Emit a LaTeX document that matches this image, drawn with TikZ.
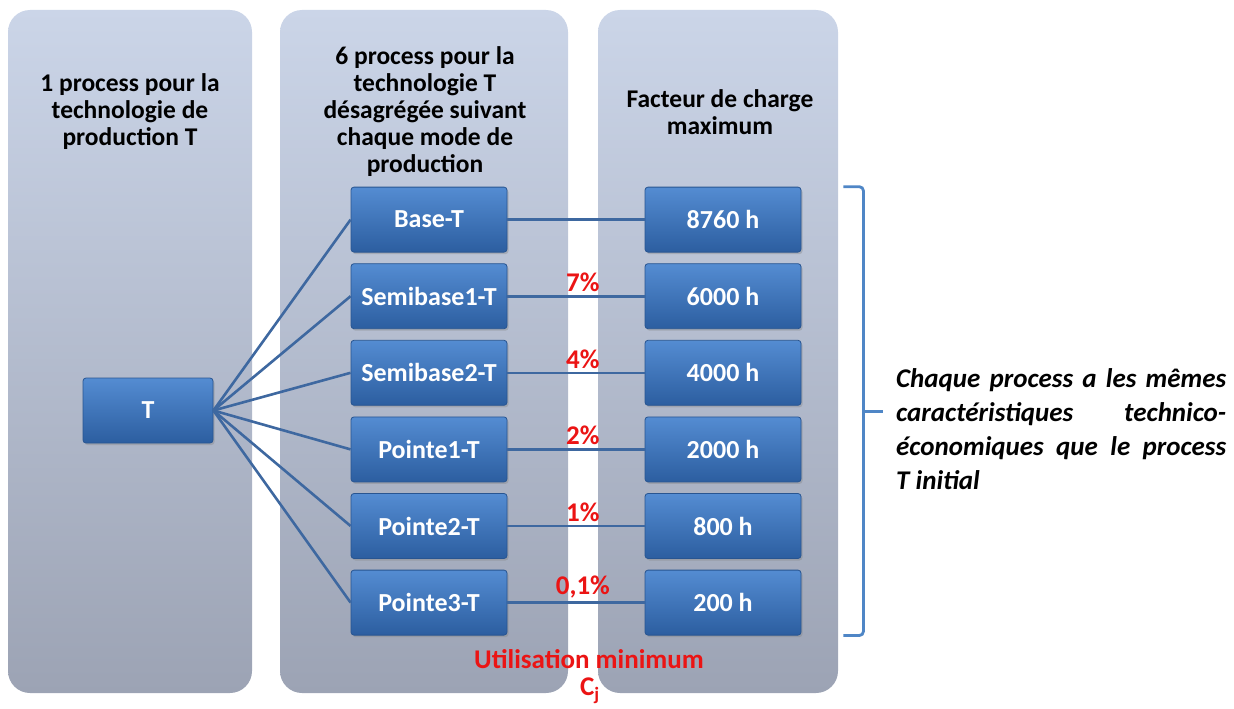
\documentclass[tikz,border=0pt]{standalone}
\usepackage{fontspec}
\setmainfont{Carlito}
\usepackage{tikz}
\usetikzlibrary{positioning,calc,shadows}
\definecolor{PanelTop}{RGB}{203,213,232}
\definecolor{PanelBot}{RGB}{156,163,180}
\definecolor{BoxTop}{RGB}{84,140,210}
\definecolor{BoxBot}{RGB}{44,94,160}
\definecolor{BoxEdge}{RGB}{40,85,145}
\definecolor{LinkBlue}{RGB}{62,104,160}
\definecolor{BraceBlue}{RGB}{79,134,198}
\definecolor{MinRed}{RGB}{235,20,20}

\tikzset{
  panel/.style={rounded corners=22pt,top color=PanelTop,bottom color=PanelBot,draw=none},
  procbox/.style={rectangle,rounded corners=3pt,top color=BoxTop,bottom color=BoxBot,
    draw=BoxEdge,line width=0.8pt,minimum width=156pt,minimum height=65pt,text=white,
    font=\fontsize{26}{30}\selectfont\bfseries,
    drop shadow={opacity=0.35,shadow xshift=1.5pt,shadow yshift=-2pt}},
  head/.style={align=center,font=\fontsize{25.5}{27}\selectfont\bfseries},
  link/.style={LinkBlue,line width=2.6pt},
  pct/.style={text=MinRed,font=\fontsize{27}{30}\selectfont\bfseries,inner sep=1pt},
  brace/.style={BraceBlue,line width=2.8pt,rounded corners=4pt},
  note/.style={text width=330pt,align=justify,inner sep=0pt,
    font=\fontsize{27}{34}\selectfont\bfseries\itshape}
}

\begin{document}
\begin{tikzpicture}[x=1pt,y=-1pt]
  \useasboundingbox (0,0) rectangle (1234,709);

  % the three columns
  \shade[panel] (8,10) rectangle (252,693);
  \shade[panel] (280,10) rectangle (568,693);
  \shade[panel] (598,10) rectangle (838,693);

  \node[head] (head1) at (130,112) {1 process pour la\\technologie de\\production T};
  \node[head] (head2) at (425,112) {6 process pour la\\technologie T\\d\'esagr\'eg\'ee suivant\\chaque mode de\\production};
  \node[head] (head3) at (720,112) {Facteur de charge\\maximum};

  \node[procbox,minimum width=130pt] (T) at (148,410.5) {T};

  \foreach \lab/\hrs [count=\i] in {Base-T/8760 h,Semibase1-T/6000 h,Semibase2-T/4000 h,
      Pointe1-T/2000 h,Pointe2-T/800 h,Pointe3-T/200 h} {
    \node[procbox] (p\i) at (429,{143+76.6*\i}) {\lab};
    \node[procbox] (f\i) at (723,{143+76.6*\i}) {\hrs};
    \draw[link] (T.east) -- (p\i.west);
  }

  \draw[link] (p1.east) -- (f1.west);
  \foreach \i/\pct in {2/7\%,3/4\%,4/2\%,5/1\%,6/{0,1\%}}
    \draw[link] (p\i.east) -- node[pct,above=2pt,pos=0.55] {\pct} (f\i.west);

  \node[pct] (umin) at (589,659) {Utilisation minimum};
  \node[pct] (cj) at (590,691) {C\textsubscript{j}};

  % bracket and comment
  \draw[brace] ($(f1.north east)+(42,0)$) -| ($(f6.south east)+(62,0)$) -- ++(-20,0);
  \draw[brace] ($(f1.north east)!0.5!(f6.south east)+(62,0)$) -- ++(20,0);

  \node[note,anchor=west] (comment) at (896,429) {Chaque process a les m\^emes\linebreak
    caract\'eristiques technico-\linebreak \'economiques que le process\linebreak T initial};
\end{tikzpicture}
\end{document}
